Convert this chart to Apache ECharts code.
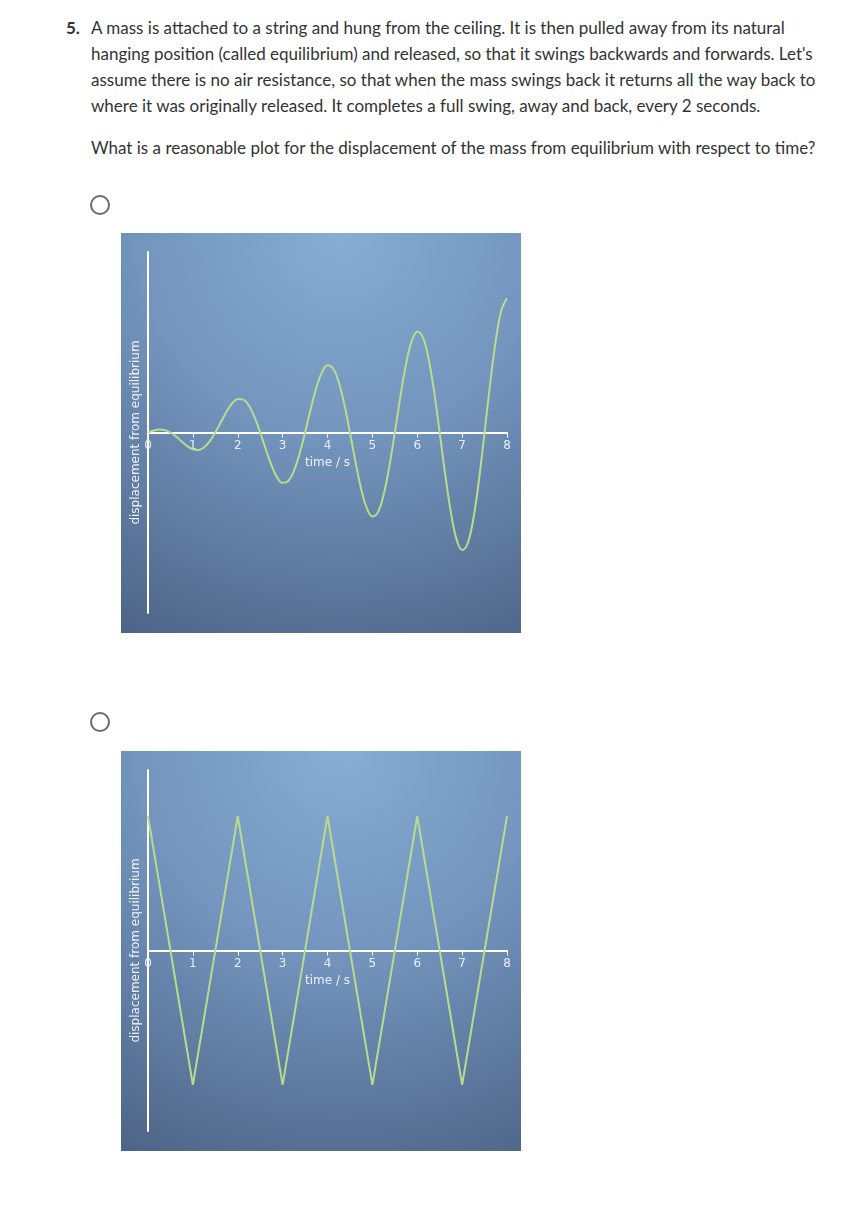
<!DOCTYPE html>
<html>
<head>
<meta charset="utf-8">
<script src="https://cdn.jsdelivr.net/npm/echarts@6/dist/echarts.min.js"></script>
<style>
  html, body { margin: 0; padding: 0; background: #ffffff; }
  body { width: 850px; height: 1210px; position: relative; font-family: "Lato", "Open Sans", sans-serif; color: #333333; }
  .num { position: absolute; left: 66px; top: 15px; font-size: 17px; line-height: 26px; font-weight: bold; }
  .para { position: absolute; left: 91px; font-size: 17px; line-height: 26px; white-space: nowrap; }
  .radio { position: absolute; width: 16px; height: 16px; border: 2px solid #6b6b6b; border-radius: 50%; box-sizing: content-box; }
  .chart { position: absolute; left: 121px; width: 400px; height: 400px; }
</style>
</head>
<body>
<div class="num">5.</div>
<div class="para" style="top:15px;">A mass is attached to a string and hung from the ceiling. It is then pulled away from its natural<br>hanging position (called equilibrium) and released, so that it swings backwards and forwards. Let's<br>assume there is no air resistance, so that when the mass swings back it returns all the way back to<br>where it was originally released. It completes a full swing, away and back, every 2 seconds.</div>
<div class="para" style="top:135px;">What is a reasonable plot for the displacement of the mass from equilibrium with respect to time?</div>

<div class="radio" style="left:90px; top:195px;"></div>
<div id="c1" class="chart" style="top:233px;"></div>

<div class="radio" style="left:90px; top:712px;"></div>
<div id="c2" class="chart" style="top:751px;"></div>

<script>
// Tick labels of the time axis
const timeTicks = ['0', '1', '2', '3', '4', '5', '6', '7', '8'];

// Option A: growing oscillation (time in s, displacement)
const timeA = [0, 0.125, 0.25, 0.375, 0.5, 0.625, 0.75, 0.875,
  1, 1.125, 1.25, 1.375, 1.5, 1.625, 1.75, 1.875,
  2, 2.125, 2.25, 2.375, 2.5, 2.625, 2.75, 2.875,
  3, 3.125, 3.25, 3.375, 3.5, 3.625, 3.75, 3.875,
  4, 4.125, 4.25, 4.375, 4.5, 4.625, 4.75, 4.875,
  5, 5.125, 5.25, 5.375, 5.5, 5.625, 5.75, 5.875,
  6, 6.125, 6.25, 6.375, 6.5, 6.625, 6.75, 6.875,
  7, 7.125, 7.25, 7.375, 7.5, 7.625, 7.75, 7.875, 8];
const dispA = [0, 0.12, 0.18, 0.14, 0, -0.24, -0.53, -0.81,
  -1.0, -1.04, -0.88, -0.53, 0, 0.62, 1.24, 1.73,
  2.0, 1.96, 1.59, 0.91, 0, -1.0, -1.94, -2.66,
  -3.0, -2.89, -2.3, -1.29, 0, 1.39, 2.65, 3.58,
  4.0, 3.81, 3.0, 1.68, 0, -1.77, -3.36, -4.5,
  -5.0, -4.74, -3.71, -2.06, 0, 2.15, 4.07, 5.43,
  6.0, 5.66, 4.42, 2.44, 0, -2.54, -4.77, -6.35,
  -7.0, -6.58, -5.13, -2.83, 0, 2.92, 5.48, 7.28, 8.0];

// Option B: zig-zag (triangle) swing
const timeB = [0, 1, 2, 3, 4, 5, 6, 7, 8];
const dispB = [8, -8, 8, -8, 8, -8, 8, -8, 8];

const yLimit = 10.75;

function makeOption(xs, ys, smooth) {
  const data = xs.map((t, i) => [t, ys[i]]);
  return {
    animation: false,
    backgroundColor: {
      type: 'radial', x: 0.55, y: 0.0, r: 1.15,
      colorStops: [
        { offset: 0, color: '#88acd4' },
        { offset: 0.45, color: '#7294bd' },
        { offset: 1, color: '#4d6385' }
      ]
    },
    grid: { left: 27, right: 14, top: 19, bottom: 20, outerBoundsMode: 'none', containLabel: false },
    xAxis: {
      type: 'value', min: 0, max: 8, interval: 1,
      position: 'bottom', offset: -180.5,
      name: 'time / s', nameLocation: 'middle', nameGap: 24,
      nameTextStyle: { color: '#eef2f8', fontSize: 12, fontFamily: 'DejaVu Sans' },
      axisLine: { onZero: false, lineStyle: { color: '#ffffff', width: 2 } },
      axisTick: { show: true, length: 5, lineStyle: { color: '#ffffff', width: 1 } },
      axisLabel: {
        color: '#e8eef6', fontSize: 12, fontFamily: 'DejaVu Sans', margin: 7,
        formatter: v => timeTicks[Math.round(v)]
      },
      splitLine: { show: false }
    },
    yAxis: {
      type: 'value', min: -yLimit, max: yLimit,
      name: 'displacement from equilibrium', nameLocation: 'middle', nameGap: 6,
      nameTextStyle: { color: '#eef2f8', fontSize: 12, fontFamily: 'DejaVu Sans' },
      axisLine: { show: true, onZero: false, lineStyle: { color: '#ffffff', width: 2 } },
      axisTick: { show: false },
      axisLabel: { show: false },
      splitLine: { show: false }
    },
    series: [{
      type: 'line', data: data, smooth: smooth, showSymbol: false,
      lineStyle: { color: '#b9dc8c', width: 2 }
    }]
  };
}

echarts.init(document.getElementById('c1')).setOption(makeOption(timeA, dispA, 0.4));
echarts.init(document.getElementById('c2')).setOption(makeOption(timeB, dispB, false));
</script>
</body>
</html>
